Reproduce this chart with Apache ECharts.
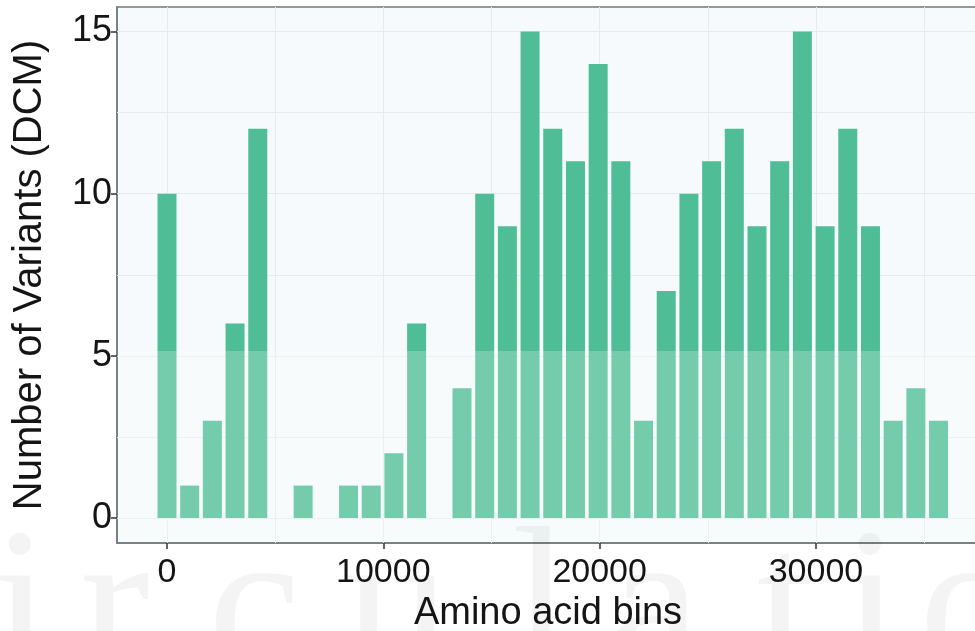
<!DOCTYPE html>
<html>
<head>
<meta charset="utf-8">
<script src="https://cdn.jsdelivr.net/npm/echarts@6/dist/echarts.min.js"></script>
<style>
html,body{margin:0;padding:0;background:#ffffff;overflow:hidden;width:975px;height:631px;}
#chart{width:975px;height:631px;overflow:hidden;}
</style>
</head>
<body>
<div id="chart"></div>
<script>
// ---- data ----
const binCenters = [0, 1049, 2098, 3147, 4196, 5245, 6294, 7343, 8392, 9441, 10490, 11539,
  12588, 13637, 14686, 15735, 16784, 17833, 18882, 19931, 20980, 22029, 23078, 24127,
  25176, 26225, 27274, 28323, 29372, 30421, 31470, 32519, 33568, 34617, 35666];
const variantCounts = [10, 1, 3, 6, 12, 0, 1, 0, 1, 1, 2, 6,
  0, 4, 10, 9, 15, 12, 11, 14, 11, 3, 7, 10,
  11, 12, 9, 11, 15, 9, 12, 9, 3, 4, 3];
const xTickValues = [0, 10000, 20000, 30000];
const yTickValues = [0, 5, 10, 15];
const xGridValues = [0, 5000, 10000, 15000, 20000, 25000, 30000, 35000];
const yGridValues = [0, 2.5, 5, 7.5, 10, 12.5, 15];
const xTitle = 'Amino acid bins';
const yTitle = 'Number of Variants (DCM)';
const watermarkLetters = ['i', 'r', 'c', 'u', 'l', 'a', 't', 'i', 'o'];
const watermarkX = [-8, 80, 208, 345, 512, 608, 757, 842, 919];

const chart = echarts.init(document.getElementById('chart'), null, {renderer: 'canvas', width: 975, height: 631});
const textColor = '#151515';
const font = '"Liberation Sans", Arial, Helvetica, sans-serif';

const gridLines = [];
xGridValues.forEach(v => gridLines.push({xAxis: v}));
yGridValues.forEach(v => gridLines.push({yAxis: v}));

const graphics = [{
  type: 'rect', silent: true, z: 100,
  shape: {x: 118, y: 351, width: 860, height: 191},
  style: {fill: 'rgba(255,255,255,0.22)'}
}];
watermarkLetters.forEach((ch, i) => {
  graphics.push({
    type: 'text', silent: true, z: 101,
    x: watermarkX[i], y: 617,
    style: {
      text: ch,
      font: '210px "Liberation Serif", "DejaVu Serif", serif',
      fill: 'rgba(0,0,0,0.045)',
      textVerticalAlign: 'middle'
    }
  });
});

const option = {
  animation: false,
  backgroundColor: '#ffffff',
  grid: {
    left: 117, top: 7, right: -4, bottom: 88,
    outerBoundsMode: 'none',
    show: true, backgroundColor: '#f6fafc',
    borderColor: '#6f7a80', borderWidth: 1.5
  },
  xAxis: {
    type: 'value', min: -2311, max: 37536,
    axisLine: {show: true, onZero: false, lineStyle: {color: '#6f7a80', width: 1.5}},
    axisTick: {show: true, customValues: xTickValues, length: 6, lineStyle: {color: '#333333', width: 1.5}},
    axisLabel: {customValues: xTickValues, color: textColor, fontSize: 34, fontFamily: font, margin: 13,
      formatter: v => String(Math.round(v))},
    splitLine: {show: false},
    name: xTitle, nameLocation: 'middle', nameGap: 39,
    nameTextStyle: {color: textColor, fontSize: 38, fontFamily: font}
  },
  yAxis: {
    type: 'value', min: -0.771, max: 15.757,
    axisLine: {show: true, onZero: false, lineStyle: {color: '#6f7a80', width: 1.5}},
    axisTick: {show: true, customValues: yTickValues, length: 6, lineStyle: {color: '#333333', width: 1.5}},
    axisLabel: {customValues: yTickValues, color: textColor, fontSize: 36, fontFamily: font, margin: 5,
      formatter: v => String(Math.round(v))},
    splitLine: {show: false},
    name: yTitle, nameLocation: 'middle', nameGap: 67,
    nameTextStyle: {color: textColor, fontSize: 40, fontFamily: font}
  },
  series: [{
    type: 'bar',
    barWidth: 19,
    clip: true,
    itemStyle: {color: '#4fbe96'},
    data: binCenters.map((x, i) => [x, variantCounts[i]]),
    markLine: {
      silent: true, z: 1, symbol: ['none', 'none'],
      label: {show: false},
      lineStyle: {color: '#e4ecf0', width: 1, type: 'solid'},
      emphasis: {disabled: true},
      data: gridLines
    }
  }],
  graphic: graphics
};
chart.setOption(option);
</script>
</body>
</html>
